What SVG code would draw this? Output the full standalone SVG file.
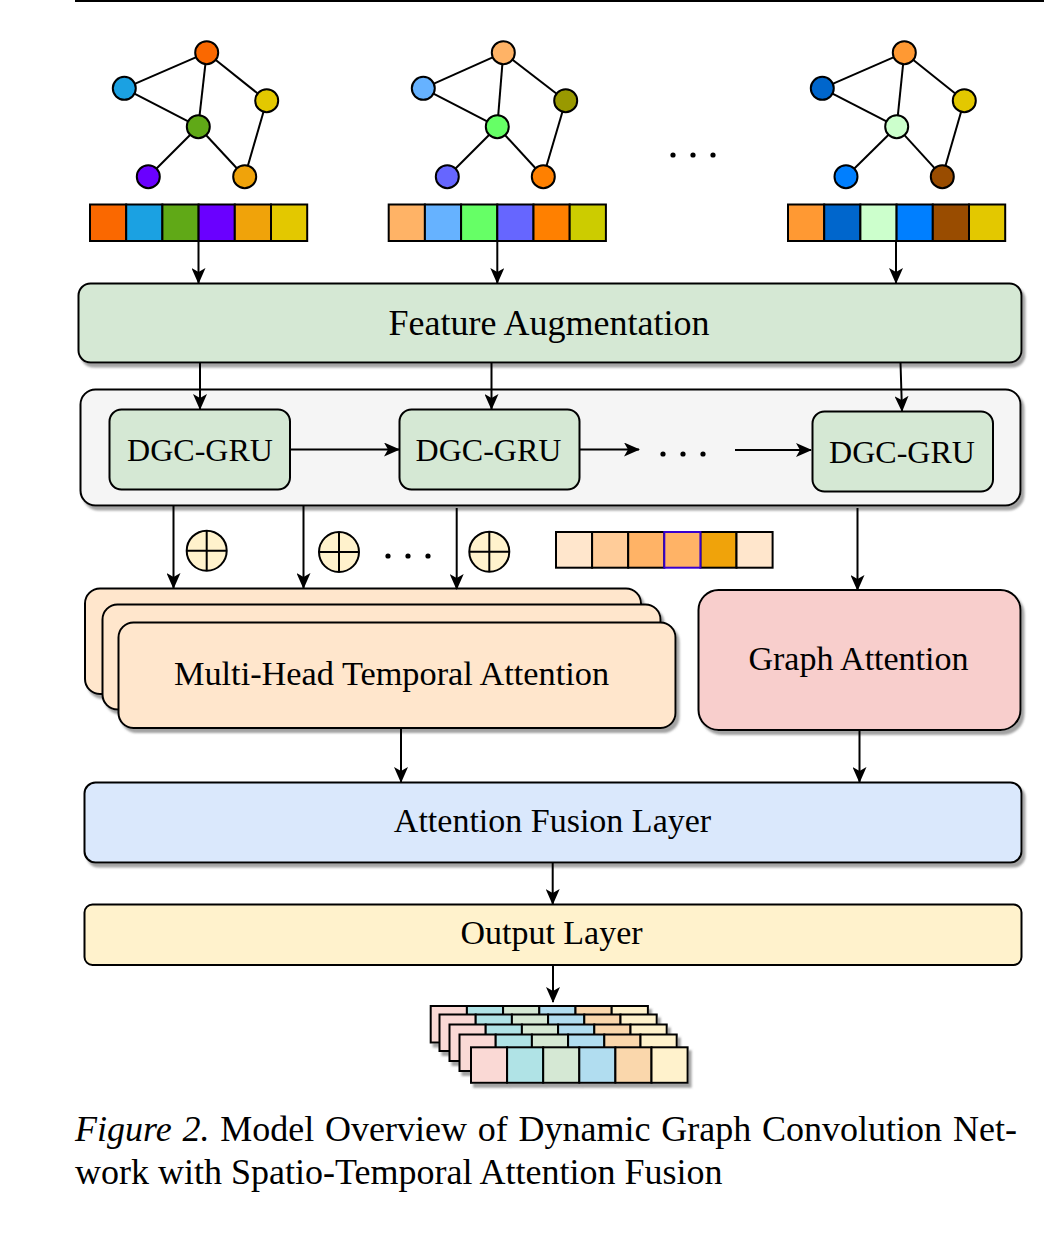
<svg xmlns="http://www.w3.org/2000/svg" width="1044" height="1238" viewBox="0 0 1044 1238">
<style>
  .lbl { font-family: "Liberation Serif", "Times New Roman", serif; fill: #000; text-anchor: middle; }
  .box { stroke: #000; stroke-width: 2; }
  .node { stroke: #000; stroke-width: 2; }
  .edge { stroke: #000; stroke-width: 2; fill: none; }
  .cell { stroke: #000; stroke-width: 2; }
  .conn { stroke: #000; stroke-width: 2; fill: none; marker-end: url(#arr); }
  .dot { fill: #000; }
  .cap { font-family: "Liberation Serif", "Times New Roman", serif; fill: #000; font-size: 36px; }
</style>
<defs>
  <marker id="arr" markerUnits="userSpaceOnUse" markerWidth="16" markerHeight="14" refX="15" refY="7" orient="auto">
    <path d="M0,0 L16,7 L0,14 L4,7 Z" fill="#000"/>
  </marker>
  <filter id="sh" x="-5%" y="-10%" width="115%" height="130%">
    <feDropShadow dx="3" dy="4" stdDeviation="1" flood-color="#666" flood-opacity="0.6"/>
  </filter>
</defs>
<rect width="1044" height="1238" fill="#fff"/>
<line x1="75" y1="1" x2="1044" y2="1" stroke="#000" stroke-width="2"/>

<!-- Graph 1 -->
<g id="graph-1">
  <g class="graph-edges">
    <line class="edge" x1="206.7" y1="52.7" x2="124.3" y2="88.3"/>
    <line class="edge" x1="206.7" y1="52.7" x2="198.3" y2="126.7"/>
    <line class="edge" x1="206.7" y1="52.7" x2="266.7" y2="100.7"/>
    <line class="edge" x1="124.3" y1="88.3" x2="198.3" y2="126.7"/>
    <line class="edge" x1="198.3" y1="126.7" x2="148.3" y2="176.7"/>
    <line class="edge" x1="198.3" y1="126.7" x2="244.7" y2="176.7"/>
    <line class="edge" x1="266.7" y1="100.7" x2="244.7" y2="176.7"/>
  </g>
  <circle class="node" cx="206.7" cy="52.7" r="11.5" fill="#fa6800"/>
  <circle class="node" cx="124.3" cy="88.3" r="11.5" fill="#1ba1e2"/>
  <circle class="node" cx="266.7" cy="100.7" r="11.5" fill="#e3c800"/>
  <circle class="node" cx="198.3" cy="126.7" r="11.5" fill="#60a917"/>
  <circle class="node" cx="148.3" cy="176.7" r="11.5" fill="#6a00ff"/>
  <circle class="node" cx="244.7" cy="176.7" r="11.5" fill="#f0a30a"/>
</g>
<g id="features-1">
  <rect class="cell" x="90" y="204.5" width="36.2" height="36.5" fill="#fa6800"/>
  <rect class="cell" x="126.2" y="204.5" width="36.2" height="36.5" fill="#1ba1e2"/>
  <rect class="cell" x="162.4" y="204.5" width="36.2" height="36.5" fill="#60a917"/>
  <rect class="cell" x="198.6" y="204.5" width="36.2" height="36.5" fill="#6a00ff"/>
  <rect class="cell" x="234.8" y="204.5" width="36.2" height="36.5" fill="#f0a30a"/>
  <rect class="cell" x="271" y="204.5" width="36.2" height="36.5" fill="#e3c800"/>
</g>

<!-- Graph 2 -->
<g id="graph-2">
  <g class="graph-edges">
    <line class="edge" x1="503.3" y1="52.7" x2="423.3" y2="88.3"/>
    <line class="edge" x1="503.3" y1="52.7" x2="497.3" y2="126.7"/>
    <line class="edge" x1="503.3" y1="52.7" x2="565.7" y2="100.7"/>
    <line class="edge" x1="423.3" y1="88.3" x2="497.3" y2="126.7"/>
    <line class="edge" x1="497.3" y1="126.7" x2="447.3" y2="176.7"/>
    <line class="edge" x1="497.3" y1="126.7" x2="543.3" y2="176.7"/>
    <line class="edge" x1="565.7" y1="100.7" x2="543.3" y2="176.7"/>
  </g>
  <circle class="node" cx="503.3" cy="52.7" r="11.5" fill="#ffb366"/>
  <circle class="node" cx="423.3" cy="88.3" r="11.5" fill="#66b2ff"/>
  <circle class="node" cx="565.7" cy="100.7" r="11.5" fill="#999900"/>
  <circle class="node" cx="497.3" cy="126.7" r="11.5" fill="#66ff66"/>
  <circle class="node" cx="447.3" cy="176.7" r="11.5" fill="#6666ff"/>
  <circle class="node" cx="543.3" cy="176.7" r="11.5" fill="#ff8000"/>
</g>
<g id="features-2">
  <rect class="cell" x="388.7" y="204.5" width="36.2" height="36.5" fill="#ffb366"/>
  <rect class="cell" x="424.9" y="204.5" width="36.2" height="36.5" fill="#66b2ff"/>
  <rect class="cell" x="461.1" y="204.5" width="36.2" height="36.5" fill="#66ff66"/>
  <rect class="cell" x="497.3" y="204.5" width="36.2" height="36.5" fill="#6666ff"/>
  <rect class="cell" x="533.5" y="204.5" width="36.2" height="36.5" fill="#ff8000"/>
  <rect class="cell" x="569.7" y="204.5" width="36.2" height="36.5" fill="#cccc00"/>
</g>

<g id="dots-top">
  <circle class="dot" cx="673" cy="155" r="2.6"/>
  <circle class="dot" cx="693" cy="155" r="2.6"/>
  <circle class="dot" cx="713" cy="155" r="2.6"/>
</g>

<!-- Graph 3 -->
<g id="graph-3">
  <g class="graph-edges">
    <line class="edge" x1="904.3" y1="52.7" x2="822.3" y2="88.3"/>
    <line class="edge" x1="904.3" y1="52.7" x2="896.7" y2="126.7"/>
    <line class="edge" x1="904.3" y1="52.7" x2="964.3" y2="100.7"/>
    <line class="edge" x1="822.3" y1="88.3" x2="896.7" y2="126.7"/>
    <line class="edge" x1="896.7" y1="126.7" x2="846" y2="176.7"/>
    <line class="edge" x1="896.7" y1="126.7" x2="942.3" y2="176.7"/>
    <line class="edge" x1="964.3" y1="100.7" x2="942.3" y2="176.7"/>
  </g>
  <circle class="node" cx="904.3" cy="52.7" r="11.5" fill="#ff9933"/>
  <circle class="node" cx="822.3" cy="88.3" r="11.5" fill="#0066cc"/>
  <circle class="node" cx="964.3" cy="100.7" r="11.5" fill="#e3c800"/>
  <circle class="node" cx="896.7" cy="126.7" r="11.5" fill="#ccffcc"/>
  <circle class="node" cx="846" cy="176.7" r="11.5" fill="#007fff"/>
  <circle class="node" cx="942.3" cy="176.7" r="11.5" fill="#994c00"/>
</g>
<g id="features-3">
  <rect class="cell" x="788" y="204.5" width="36.2" height="36.5" fill="#ff9933"/>
  <rect class="cell" x="824.2" y="204.5" width="36.2" height="36.5" fill="#0066cc"/>
  <rect class="cell" x="860.4" y="204.5" width="36.2" height="36.5" fill="#ccffcc"/>
  <rect class="cell" x="896.6" y="204.5" width="36.2" height="36.5" fill="#007fff"/>
  <rect class="cell" x="932.8" y="204.5" width="36.2" height="36.5" fill="#994c00"/>
  <rect class="cell" x="969" y="204.5" width="36.2" height="36.5" fill="#e3c800"/>
</g>

<!-- Feature Augmentation -->
<g id="feature-augmentation">
  <rect class="box" x="78.5" y="283.5" width="943" height="79" rx="12" fill="#d5e8d4" filter="url(#sh)"/>
  <text class="lbl" x="549" y="334.5" font-size="36">Feature Augmentation</text>
</g>

<!-- DGC-GRU container -->
<g id="dgc-container">
  <rect class="box" x="80.5" y="389.5" width="940" height="116" rx="15" fill="#f5f5f5" filter="url(#sh)"/>
</g>
<g id="dgc-gru-1">
  <rect class="box" x="109.5" y="409.5" width="180.5" height="80" rx="12" fill="#d5e8d4"/>
  <text class="lbl" x="200" y="460.5" font-size="32">DGC-GRU</text>
</g>
<g id="dgc-gru-2">
  <rect class="box" x="399.5" y="409.5" width="180" height="80" rx="12" fill="#d5e8d4"/>
  <text class="lbl" x="488.5" y="460.5" font-size="32">DGC-GRU</text>
</g>
<g id="dots-gru">
  <circle class="dot" cx="663" cy="454" r="2.6"/>
  <circle class="dot" cx="683" cy="454" r="2.6"/>
  <circle class="dot" cx="703" cy="454" r="2.6"/>
</g>
<g id="dgc-gru-3">
  <rect class="box" x="812.5" y="411.5" width="180.5" height="80" rx="12" fill="#d5e8d4"/>
  <text class="lbl" x="902" y="463" font-size="32">DGC-GRU</text>
</g>

<!-- oplus symbols -->
<g id="oplus-1">
  <circle class="node" cx="206.7" cy="550.7" r="20" fill="#fff2cc"/>
  <line class="edge" x1="186.7" y1="550.7" x2="226.7" y2="550.7"/>
  <line class="edge" x1="206.7" y1="530.7" x2="206.7" y2="570.7"/>
</g>
<g id="oplus-2">
  <circle class="node" cx="339" cy="552" r="20" fill="#fff2cc"/>
  <line class="edge" x1="319" y1="552" x2="359" y2="552"/>
  <line class="edge" x1="339" y1="532" x2="339" y2="572"/>
</g>
<g id="dots-mid">
  <circle class="dot" cx="388" cy="556" r="2.6"/>
  <circle class="dot" cx="408" cy="556" r="2.6"/>
  <circle class="dot" cx="428" cy="556" r="2.6"/>
</g>
<g id="oplus-3">
  <circle class="node" cx="489.3" cy="551.7" r="20" fill="#fff2cc"/>
  <line class="edge" x1="469.3" y1="551.7" x2="509.3" y2="551.7"/>
  <line class="edge" x1="489.3" y1="531.7" x2="489.3" y2="571.7"/>
</g>

<!-- spatial feature bar -->
<g id="spatial-features">
  <rect class="cell" x="556" y="532" width="36.1" height="35.7" fill="#ffe6cc"/>
  <rect class="cell" x="592.1" y="532" width="36.1" height="35.7" fill="#ffcc99"/>
  <rect class="cell" x="628.2" y="532" width="36.1" height="35.7" fill="#ffb366"/>
  <rect class="cell" x="700.4" y="532" width="36.1" height="35.7" fill="#f0a30a"/>
  <rect class="cell" x="736.5" y="532" width="36.1" height="35.7" fill="#ffe6cc"/>
  <rect x="664.3" y="532" width="36.1" height="35.7" fill="#ffb366" stroke="#3700cc" stroke-width="2"/>
</g>

<!-- Multi-Head Temporal Attention -->
<g id="multi-head-temporal-attention">
  <rect class="box" x="85" y="588.5" width="556" height="105.5" rx="15" fill="#ffe6cc" filter="url(#sh)"/>
  <rect class="box" x="102.5" y="604.5" width="558" height="105" rx="15" fill="#ffe6cc" filter="url(#sh)"/>
  <rect class="box" x="118.5" y="622.5" width="557" height="105.5" rx="15" fill="#ffe6cc" filter="url(#sh)"/>
  <text class="lbl" x="391.5" y="684.5" font-size="34.3">Multi-Head Temporal Attention</text>
</g>

<!-- Graph Attention -->
<g id="graph-attention">
  <rect class="box" x="698.5" y="590" width="322" height="140" rx="20" fill="#f8cecc" filter="url(#sh)"/>
  <text class="lbl" x="858.5" y="669.5" font-size="34">Graph Attention</text>
</g>

<!-- Attention Fusion Layer -->
<g id="attention-fusion-layer">
  <rect class="box" x="84.5" y="782.5" width="937" height="80" rx="11" fill="#dae8fc" filter="url(#sh)"/>
  <text class="lbl" x="552.5" y="832" font-size="34">Attention Fusion Layer</text>
</g>

<!-- Output Layer -->
<g id="output-layer">
  <rect class="box" x="84.5" y="904.5" width="937" height="60.5" rx="8" fill="#fff2cc"/>
  <text class="lbl" x="551.5" y="943.5" font-size="34">Output Layer</text>
</g>

<!-- output tensor stack -->
<g id="output-tensor">
  <g filter="url(#sh)">
    <rect class="cell" x="430.7" y="1006" width="36.2" height="36.5" fill="#fad9d5"/>
    <rect class="cell" x="466.9" y="1006" width="36.2" height="36.5" fill="#b0e3e6"/>
    <rect class="cell" x="503.1" y="1006" width="36.2" height="36.5" fill="#d5e8d4"/>
    <rect class="cell" x="539.3" y="1006" width="36.2" height="36.5" fill="#b1ddf0"/>
    <rect class="cell" x="575.5" y="1006" width="36.2" height="36.5" fill="#fad7ac"/>
    <rect class="cell" x="611.7" y="1006" width="36.2" height="36.5" fill="#fff2cc"/>
  </g>
  <g filter="url(#sh)">
    <rect class="cell" x="439.5" y="1014.5" width="36.2" height="36.5" fill="#fad9d5"/>
    <rect class="cell" x="475.7" y="1014.5" width="36.2" height="36.5" fill="#b0e3e6"/>
    <rect class="cell" x="511.9" y="1014.5" width="36.2" height="36.5" fill="#d5e8d4"/>
    <rect class="cell" x="548.1" y="1014.5" width="36.2" height="36.5" fill="#b1ddf0"/>
    <rect class="cell" x="584.3" y="1014.5" width="36.2" height="36.5" fill="#fad7ac"/>
    <rect class="cell" x="620.5" y="1014.5" width="36.2" height="36.5" fill="#fff2cc"/>
  </g>
  <g filter="url(#sh)">
    <rect class="cell" x="449.5" y="1024.5" width="36.2" height="36.5" fill="#fad9d5"/>
    <rect class="cell" x="485.7" y="1024.5" width="36.2" height="36.5" fill="#b0e3e6"/>
    <rect class="cell" x="521.9" y="1024.5" width="36.2" height="36.5" fill="#d5e8d4"/>
    <rect class="cell" x="558.1" y="1024.5" width="36.2" height="36.5" fill="#b1ddf0"/>
    <rect class="cell" x="594.3" y="1024.5" width="36.2" height="36.5" fill="#fad7ac"/>
    <rect class="cell" x="630.5" y="1024.5" width="36.2" height="36.5" fill="#fff2cc"/>
  </g>
  <g filter="url(#sh)">
    <rect class="cell" x="459.5" y="1034.5" width="36.2" height="36.5" fill="#fad9d5"/>
    <rect class="cell" x="495.7" y="1034.5" width="36.2" height="36.5" fill="#b0e3e6"/>
    <rect class="cell" x="531.9" y="1034.5" width="36.2" height="36.5" fill="#d5e8d4"/>
    <rect class="cell" x="568.1" y="1034.5" width="36.2" height="36.5" fill="#b1ddf0"/>
    <rect class="cell" x="604.3" y="1034.5" width="36.2" height="36.5" fill="#fad7ac"/>
    <rect class="cell" x="640.5" y="1034.5" width="36.2" height="36.5" fill="#fff2cc"/>
  </g>
  <g filter="url(#sh)">
    <rect class="cell" x="471" y="1047.3" width="36.1" height="35.5" fill="#fad9d5"/>
    <rect class="cell" x="507.1" y="1047.3" width="36.1" height="35.5" fill="#b0e3e6"/>
    <rect class="cell" x="543.2" y="1047.3" width="36.1" height="35.5" fill="#d5e8d4"/>
    <rect class="cell" x="579.3" y="1047.3" width="36.1" height="35.5" fill="#b1ddf0"/>
    <rect class="cell" x="615.4" y="1047.3" width="36.1" height="35.5" fill="#fad7ac"/>
    <rect class="cell" x="651.5" y="1047.3" width="36.1" height="35.5" fill="#fff2cc"/>
  </g>
</g>

<!-- Connectors -->
<g id="connectors">
  <line class="conn" x1="198.5" y1="241" x2="198.5" y2="283"/>
  <line class="conn" x1="497.3" y1="241" x2="497.3" y2="283"/>
  <line class="conn" x1="896" y1="241" x2="896" y2="283"/>
  <line class="conn" x1="200" y1="363" x2="200" y2="409"/>
  <line class="conn" x1="491.5" y1="363" x2="491.5" y2="409"/>
  <line class="conn" x1="900.5" y1="363" x2="902" y2="411"/>
  <line class="conn" x1="290" y1="449.5" x2="399" y2="449.5"/>
  <line class="conn" x1="580" y1="449.5" x2="639" y2="449.5"/>
  <line class="conn" x1="735" y1="450" x2="811" y2="450"/>
  <line class="conn" x1="173.5" y1="506" x2="173.5" y2="588"/>
  <line class="conn" x1="303.5" y1="506" x2="303.5" y2="588"/>
  <line class="conn" x1="456.7" y1="508" x2="456.7" y2="589"/>
  <line class="conn" x1="857.5" y1="508" x2="857.5" y2="590"/>
  <line class="conn" x1="401" y1="728" x2="401" y2="782"/>
  <line class="conn" x1="859.5" y1="730" x2="859.5" y2="782"/>
  <line class="conn" x1="552.7" y1="863" x2="552.7" y2="904"/>
  <line class="conn" x1="553" y1="965" x2="553" y2="1002"/>
</g>

<!-- Caption -->
<g id="caption">
  <text class="cap" x="75" y="1141" word-spacing="1.8"><tspan font-style="italic">Figure 2.</tspan> Model Overview of Dynamic Graph Convolution Net-</text>
  <text class="cap" x="75" y="1184">work with Spatio-Temporal Attention Fusion</text>
</g>
</svg>
